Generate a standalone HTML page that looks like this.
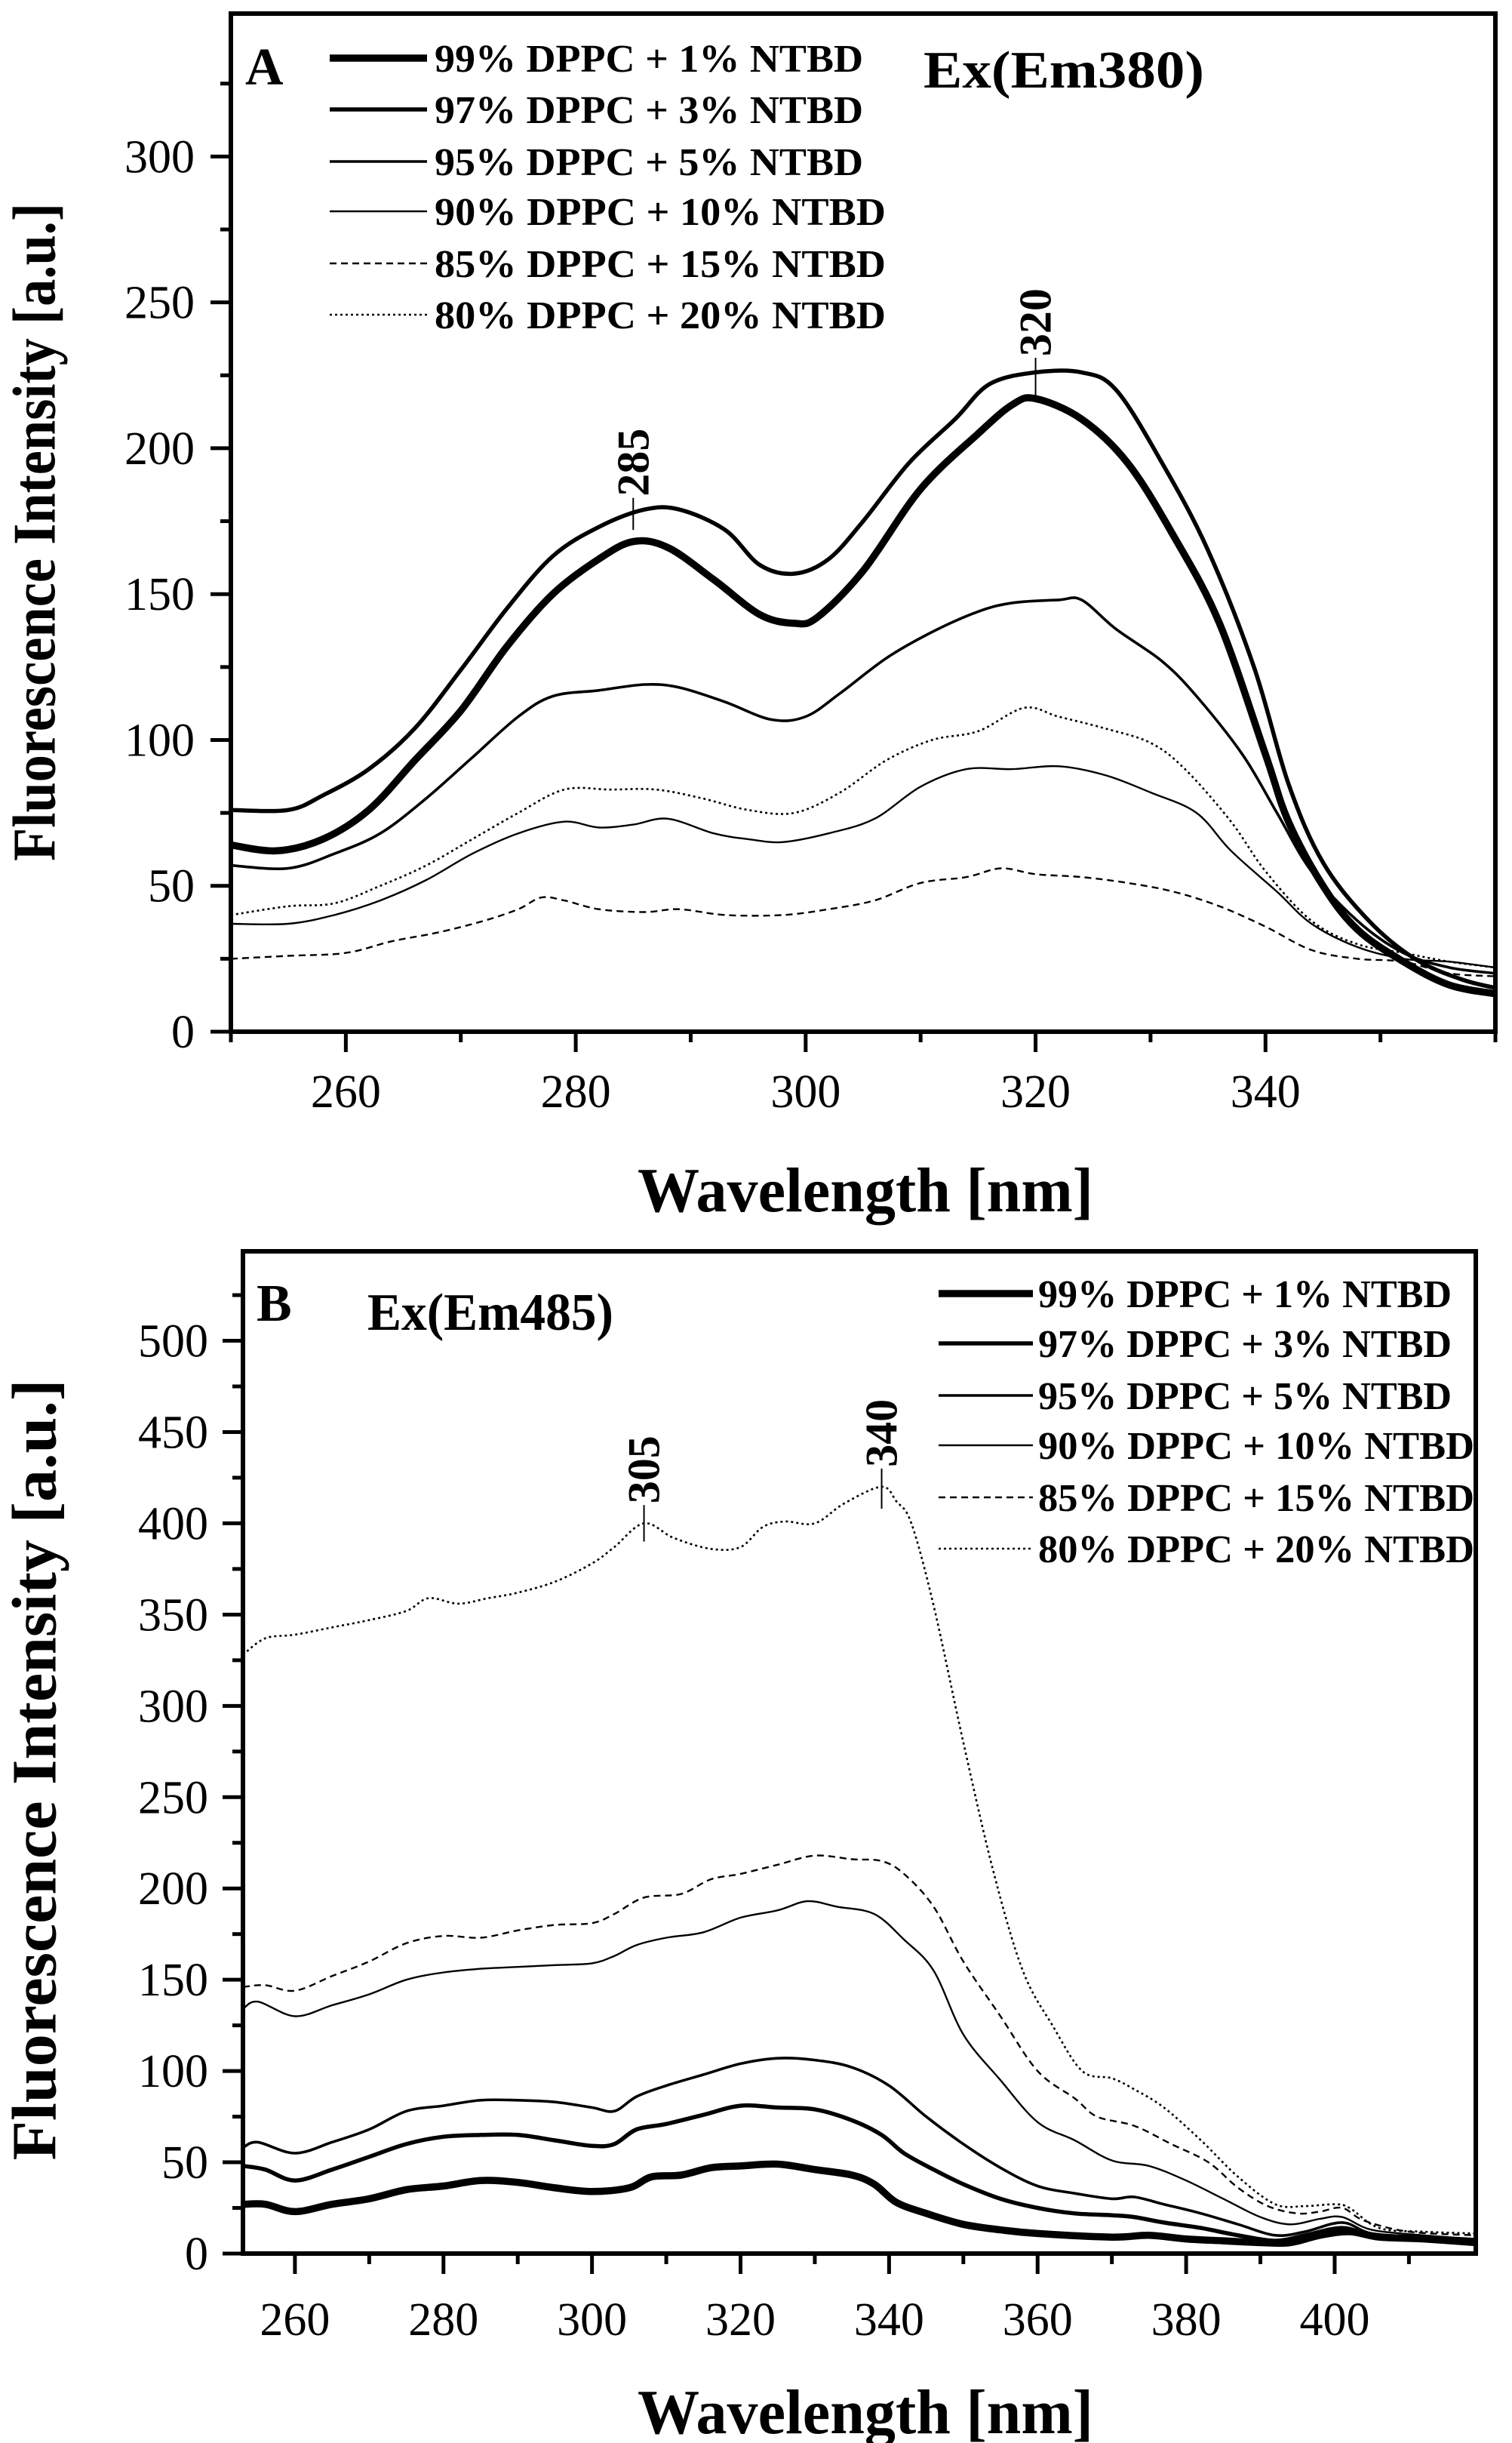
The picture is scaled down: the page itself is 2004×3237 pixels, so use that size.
<!DOCTYPE html>
<html><head><meta charset="utf-8">
<style>
html,body{margin:0;padding:0;background:#fff;}
svg{display:block;font-family:"Liberation Serif",serif;}
</style></head>
<body>
<svg id="fig" width="2004" height="3237" viewBox="0 0 2004 3237" xmlns="http://www.w3.org/2000/svg"></svg>
<script>
// ---------- Panel A data ----------
const aX1=[250,254,258,262,266,270,274,278,282,285,288,292,296,299,301,305,310,315,318,320,324,328,332,336,340,342,345,348,352,356,360];
const aY1=[64,62,66,76,93,110,132,150,162,168,166,155,143,140,142,158,186,205,215,217,210,195,170,140,95,72,50,35,24,16,13];
const aX2=[250,255,258,262,266,270,274,278,282,286,289,293,296,299,302,305,309,313,316,320,324,327,331,335,339,342,345,349,353,357,360];
const aY2=[76,76,81,90,104,124,145,163,173,179,179,172,160,157,162,175,195,210,222,226,226,220,195,165,125,85,58,38,25,18,15];
const aX3=[250,255,259,263,267,271,275,278,282,286,289,293,297,300,303,307,311,315,318,322,324,327,331,334,338,341,344,348,352,356,360];
const aY3=[57,56,61,68,80,94,108,115,117,119,118,113,107,108,116,128,137,144,147,148,148,138,127,115,95,75,55,38,27,22,20];
const aX4=[250,255,259,263,267,271,275,279,282,285,288,292,295,298,302,306,310,314,318,322,326,330,334,337,341,344,348,352,356,360];
const aY4=[37,37,40,45,52,61,68,72,70,71,73,68,66,65,68,73,84,90,90,91,88,82,75,62,48,37,29,25,24,22];
const aX5=[250,255,260,264,268,272,275,277,279,282,286,289,293,298,302,306,310,314,317,320,324,328,332,336,340,344,348,352,356,360];
const aY5=[25,26,27,31,34,38,42,46,45,42,41,42,40,40,42,45,51,53,56,54,53,51,48,43,36,28,25,24,20,19];
const aX6=[250,255,259,263,267,271,275,279,283,287,291,295,299,303,307,311,315,319,322,326,330,333,337,340,344,348,352,356,360];
const aY6=[40,43,44,50,57,66,75,83,83,83,80,76,75,82,93,100,103,111,108,104,99,90,72,55,38,30,27,24,22];
const aYTicks=[0,50,100,150,200,250,300];
const aXTicks=[260,280,300,320,340];
const legendLabels=["99% DPPC + 1% NTBD","97% DPPC + 3% NTBD","95% DPPC + 5% NTBD","90% DPPC + 10% NTBD","85% DPPC + 15% NTBD","80% DPPC + 20% NTBD"];

// ---------- Panel B data ----------
const bX1=[253,256,260,265,270,275,280,285,290,295,300,305,308,312,316,320,325,330,335,338,341,345,350,355,360,370,375,380,385,390,394,398,402,406,412,419];
const bY1=[27,27,23,27,30,35,37,40,39,36,34,36,42,43,47,48,49,46,43,38,28,22,16,13,11,9,10,8,7,6,6,10,12,9,8,6];
const bX2=[253,256,260,265,270,275,280,285,290,295,300,303,306,310,315,320,325,330,335,339,342,346,350,355,360,365,370,373,377,382,387,392,396,401,405,412,419];
const bY2=[48,46,40,46,53,60,64,65,65,62,59,60,68,71,76,81,80,79,73,65,55,46,38,30,25,22,21,20,17,14,10,7,10,14,10,8,6];
const bX3=[253,255,260,265,270,275,280,285,290,295,300,303,306,310,315,320,325,330,335,340,345,350,355,360,365,370,373,377,382,387,392,396,401,405,412,419];
const bY3=[58,61,55,61,68,78,81,84,84,83,80,78,86,92,98,104,107,106,102,92,75,60,47,37,33,30,31,27,22,16,10,12,17,11,9,7];
const bX4=[253,255,260,265,270,275,280,285,290,295,300,303,306,310,315,320,325,329,333,338,342,346,350,355,360,365,370,375,380,385,390,394,398,401,405,412,419];
const bY4=[134,138,130,136,142,150,154,156,157,158,159,163,169,173,176,184,188,193,190,186,172,155,120,95,72,62,51,48,40,30,20,16,19,20,13,10,8];
const bX5=[253,256,260,265,270,275,280,285,290,295,300,303,307,312,316,320,325,330,335,339,342,346,350,355,360,365,368,373,378,383,387,391,395,398,401,404,410,419];
const bY5=[146,147,144,152,160,170,174,173,177,180,181,186,195,197,205,208,213,218,216,215,208,190,160,130,100,85,75,70,60,50,36,26,22,23,25,18,12,10];
const bX6=[253,256,260,265,270,275,278,282,286,290,295,300,303,307,311,316,320,323,326,330,334,339,341,343,346,350,354,358,362,366,370,373,377,382,387,392,396,400,402,406,412,419];
const bY6=[328,337,339,343,347,352,359,356,359,362,368,378,387,400,392,386,387,398,401,400,411,420,412,400,355,280,210,155,125,100,96,90,80,62,42,27,26,27,25,14,12,11];
const bYTicks=[0,50,100,150,200,250,300,350,400,450,500];
const bXTicks=[260,280,300,320,340,360,380,400];

const NS="http://www.w3.org/2000/svg";
const svg=document.getElementById('fig');
function mk(tag,attrs,parent){const e=document.createElementNS(NS,tag);for(const k in attrs)e.setAttribute(k,attrs[k]);(parent||svg).appendChild(e);return e;}

const styles=[
 {w:9.5,dash:null},{w:5.5,dash:null},{w:3.6,dash:null},{w:2.4,dash:null},{w:2.4,dash:"9,6"},{w:2.6,dash:"3,4"}
];

function smoothPath(pts){
  let d="M"+pts[0][0].toFixed(1)+","+pts[0][1].toFixed(1);
  for(let i=0;i<pts.length-1;i++){
    const p0=pts[Math.max(0,i-1)],p1=pts[i],p2=pts[i+1],p3=pts[Math.min(pts.length-1,i+2)];
    const c1x=p1[0]+(p2[0]-p0[0])/6,c1y=p1[1]+(p2[1]-p0[1])/6;
    const c2x=p2[0]-(p3[0]-p1[0])/6,c2y=p2[1]-(p3[1]-p1[1])/6;
    d+=" C"+c1x.toFixed(1)+","+c1y.toFixed(1)+" "+c2x.toFixed(1)+","+c2y.toFixed(1)+" "+p2[0].toFixed(1)+","+p2[1].toFixed(1);
  }
  return d;
}

function panel(cfg){
  const g=mk('g',{});
  
  
  const sx=v=>cfg.L+(v-cfg.x0)/(cfg.x1-cfg.x0)*(cfg.R-cfg.L);
  const sy=v=>cfg.B-(v-cfg.y0)/(cfg.ytop-cfg.y0)*(cfg.B-cfg.T);
  const cid='clip'+cfg.name;
  const cp=mk('clipPath',{id:cid},g);
  mk('rect',{x:cfg.L,y:cfg.T,width:cfg.R-cfg.L,height:cfg.B-cfg.T},cp);
  const sg=mk('g',{'clip-path':'url(#'+cid+')'},g);
  cfg.series.forEach((s,i)=>{
    const pts=s.x.map((x,j)=>[sx(x),sy(s.y[j])]);
    const p=mk('path',{d:smoothPath(pts),fill:'none',stroke:'#000','stroke-width':styles[i].w,'stroke-linejoin':'round'},sg);
    if(styles[i].dash)p.setAttribute('stroke-dasharray',styles[i].dash);
    
    
  });
  const fr=mk('rect',{x:cfg.L,y:cfg.T,width:cfg.R-cfg.L,height:cfg.B-cfg.T,fill:'none',stroke:'#000','stroke-width':6},g);
  
  
  for(let v=cfg.y0;v<=cfg.ytop;v+=cfg.yMinor){
    const major=cfg.yTicks.includes(v);
    const t=mk('line',{x1:cfg.L,x2:cfg.L-(major?27:14),y1:sy(v),y2:sy(v),stroke:'#000','stroke-width':5},g);
    
    
  }
  cfg.yTicks.forEach(v=>{
    const t=mk('text',{x:cfg.ylabX,y:sy(v)+21,'text-anchor':'end','font-size':62},g);
    t.textContent=v;
    
    
  });
  for(let v=Math.ceil(cfg.x0/10)*10;v<=cfg.x1;v+=10){
    const major=cfg.xTicks.includes(v);
    const t=mk('line',{x1:sx(v),x2:sx(v),y1:cfg.B,y2:cfg.B+(major?27:14),stroke:'#000','stroke-width':5},g);
    
    
  }
  cfg.xTicks.forEach(v=>{
    const t=mk('text',{x:sx(v),y:cfg.xlabY+21,'text-anchor':'middle','font-size':62},g);
    t.textContent=v;
    
    
  });
  const xt=mk('text',{x:1147,y:cfg.xtitleY+28,'text-anchor':'middle','font-size':84,'font-weight':'bold',textLength:604,lengthAdjust:'spacingAndGlyphs'},g);
  xt.textContent="Wavelength [nm]";
  
  
  const yt=mk('text',{x:0,y:0,'text-anchor':'middle','font-size':cfg.ytitleSize,'font-weight':'bold',textLength:cfg.ytitleLen,lengthAdjust:'spacingAndGlyphs',transform:'translate('+(46+cfg.ytitleSize*0.33)+','+cfg.ytitleY+') rotate(-90)'},g);
  yt.textContent="Fluorescence Intensity [a.u.]";
  
  
  const pl=mk('text',{x:cfg.letterX,y:cfg.letterY+24,'font-size':70,'font-weight':'bold'},g);
  pl.textContent=cfg.letter;
  
  
  const ex=mk('text',{x:cfg.exX,y:cfg.exY+24,'font-size':70,'font-weight':'bold',textLength:cfg.exLen,lengthAdjust:'spacingAndGlyphs'},g);
  ex.textContent=cfg.exText;
  
  
  const lg=mk('g',{},g);
  
  
  legendLabels.forEach((lab,i)=>{
    const y=cfg.legY[i];
    const ln=mk('line',{x1:cfg.legL1,x2:cfg.legL2,y1:y,y2:y,stroke:'#000','stroke-width':styles[i].w},lg);
    if(styles[i].dash)ln.setAttribute('stroke-dasharray',styles[i].dash);
    
    
    const tx=mk('text',{x:cfg.legT,y:y+18,'font-size':52,'font-weight':'bold',textLength:(i>=3?cfg.legW2:cfg.legW1),lengthAdjust:'spacingAndGlyphs'},lg);
    tx.textContent=lab;
    
    
  });
  cfg.peaks.forEach(pk=>{
    const px=sx(pk.x);
    const l=mk('line',{x1:px,x2:px,y1:sy(pk.lo),y2:sy(pk.hi),stroke:'#000','stroke-width':2},g);
    
    
    const t=mk('text',{x:0,y:0,'font-size':60,'font-weight':'bold',transform:'translate('+(px+20)+','+(sy(pk.hi)-2)+') rotate(-90)'},g);
    t.textContent=pk.label;
    
    
  });
}

panel({name:'panel-a',L:306,R:1982,T:18,B:1367,x0:250,x1:360,y0:0,ytop:349,yTicks:aYTicks,yMinor:25,xTicks:aXTicks,
  ylabX:258,xlabY:1446,xtitleY:1577,ytitleY:705,ytitleSize:80,ytitleLen:872,
  letter:'A',letterX:325,letterY:88,exText:'Ex(Em380)',exX:1224,exY:92,exLen:372,
  legY:[77,145,214,280,349,417],legL1:437,legL2:566,legT:576,legW1:568,legW2:598,
  series:[{x:aX1,y:aY1},{x:aX2,y:aY2},{x:aX3,y:aY3},{x:aX4,y:aY4},{x:aX5,y:aY5},{x:aX6,y:aY6}],
  peaks:[{x:285,lo:172,hi:183,label:'285'},{x:320,lo:218,hi:231,label:'320'}]});

panel({name:'panel-b',L:322,R:1956,T:1658,B:2986,x0:253,x1:419,y0:0,ytop:549,yTicks:bYTicks,yMinor:25,xTicks:bXTicks,
  ylabX:276,xlabY:3073,xtitleY:3196,ytitleY:2345,ytitleSize:84,ytitleLen:1035,
  letter:'B',letterX:340,letterY:1726,exText:'Ex(Em485)',exX:487,exY:1738,exLen:326,
  legY:[1714,1780,1849,1915,1984,2052],legL1:1244,legL2:1369,legT:1376,legW1:548,legW2:578,
  series:[{x:bX1,y:bY1},{x:bX2,y:bY2},{x:bX3,y:bY3},{x:bX4,y:bY4},{x:bX5,y:bY5},{x:bX6,y:bY6}],
  peaks:[{x:307,lo:390,hi:410,label:'305'},{x:339,lo:408,hi:430,label:'340'}]});
</script>
</body></html>
